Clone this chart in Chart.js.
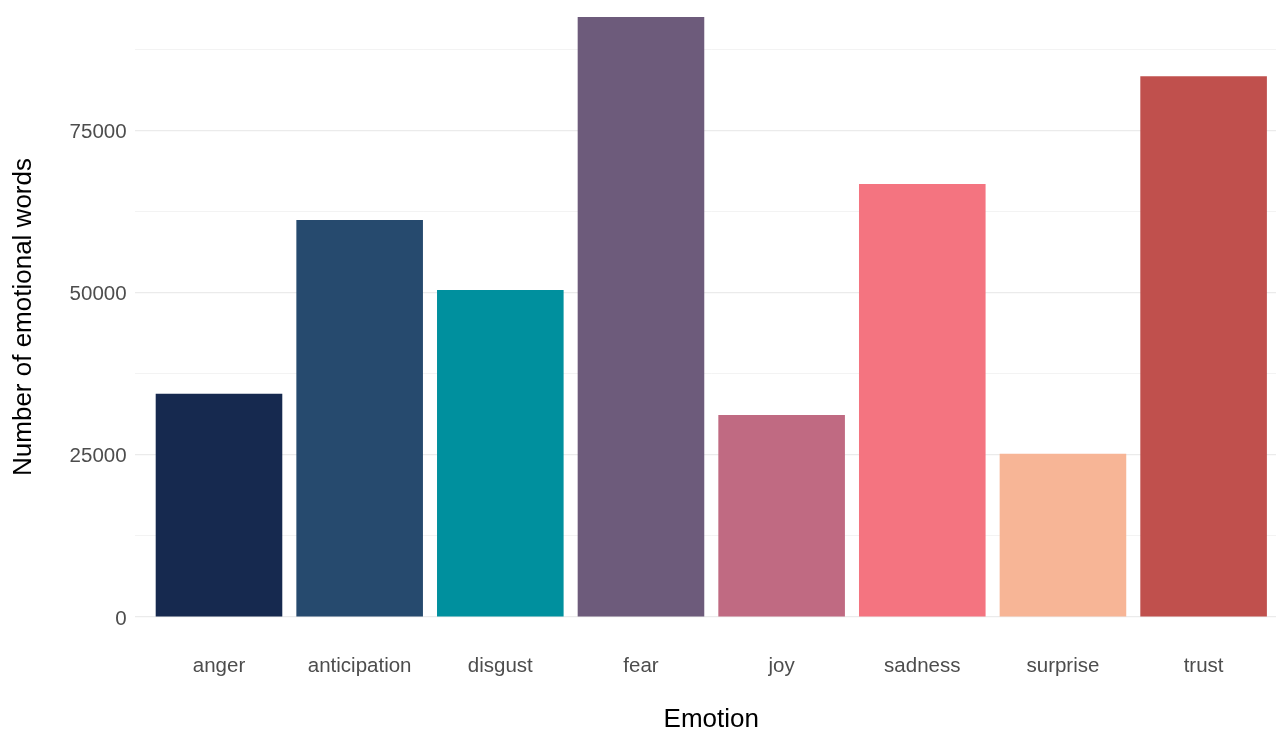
<!DOCTYPE html>
<html>
<head>
<meta charset="utf-8">
<script src="https://cdn.jsdelivr.net/npm/chart.js@4.4.1/dist/chart.umd.min.js"></script>
<style>
    html, body { margin: 0; padding: 0; background: #fff; overflow: hidden; }
    /* panel is a bit larger than the window, like the cropped original */
    #wrap { position: absolute; left: 0; top: -13px; width: 1288px; height: 748px; }
</style>
</head>
<body>
<div id="wrap"><canvas id="emotionChart" width="1288" height="748"></canvas></div>
<script>
// =============================================
// DATA
// =============================================
const emotions = ['anger', 'anticipation', 'disgust', 'fear', 'joy', 'sadness', 'surprise', 'trust'];
const wordCounts = [34400, 61200, 50400, 92500, 31150, 66750, 25150, 83350];
const barColors = ['#16294f', '#264a6e', '#00909e', '#6d5b7b', '#c06a82', '#f47480', '#f7b596', '#c0504d'];
const yTicks = [0, 12500, 25000, 37500, 50000, 62500, 75000, 87500];
const yLabelTicks = [0, 25000, 50000, 75000];

const FONT = '"Liberation Sans", Arial, sans-serif';

// ggplot-style 5% expansion on y, 0.6 on the discrete x
const yMax = Math.max(...wordCounts);
const yMin = -0.05 * yMax;
const yTop = yMax * 1.05;

const noPad = s => { s.paddingTop = 0; s.paddingBottom = 0; s.paddingLeft = 0; s.paddingRight = 0; };

new Chart(document.getElementById('emotionChart').getContext('2d'), {
    type: 'bar',
    data: {
        datasets: [{
            data: emotions.map((e, i) => ({ x: i, y: wordCounts[i] })),
            backgroundColor: barColors,
            borderWidth: 0,
            barPercentage: 1,
            categoryPercentage: 0.9,
        }],
    },
    options: {
        responsive: false,
        devicePixelRatio: 1,
        animation: false,
        layout: { padding: 0 },
        plugins: { legend: { display: false }, tooltip: { enabled: false } },
        scales: {
            x: {
                type: 'linear',
                offset: false,
                min: -0.6,
                max: emotions.length - 1 + 0.6,
                afterBuildTicks: s => { s.ticks = emotions.map((e, i) => ({ value: i })); },
                afterFit: s => { s.height = 88; noPad(s); },
                grid: { display: false, drawTicks: false, offset: false },
                border: { display: false },
                ticks: {
                    padding: 7,
                    color: '#4d4d4d',
                    font: { family: FONT, size: 20.5 },
                    callback: v => emotions[v],
                    maxRotation: 0,
                },
                title: {
                    display: true,
                    text: 'Emotion',
                    color: '#000',
                    font: { family: FONT, size: 26 },
                    padding: { top: 0, bottom: 0 },
                },
            },
            y: {
                min: yMin,
                max: yTop,
                afterBuildTicks: s => { s.ticks = yTicks.map(v => ({ value: v })); },
                afterFit: s => { s.width = 134.6; noPad(s); },
                grid: {
                    drawTicks: false,
                    color: '#ebebeb',
                    lineWidth: ctx => (yLabelTicks.includes(ctx.tick && ctx.tick.value) ? 1.2 : 0.6),
                },
                border: { display: false },
                ticks: {
                    padding: 8,
                    labelOffset: 2,
                    color: '#4d4d4d',
                    font: { family: FONT, size: 20.5 },
                    callback: v => (yLabelTicks.includes(v) ? String(v) : ''),
                },
                title: {
                    display: true,
                    text: 'Number of emotional words',
                    color: '#000',
                    font: { family: FONT, size: 26 },
                    padding: { top: 8, bottom: 0 },
                },
            },
        },
    },
});
</script>
</body>
</html>
